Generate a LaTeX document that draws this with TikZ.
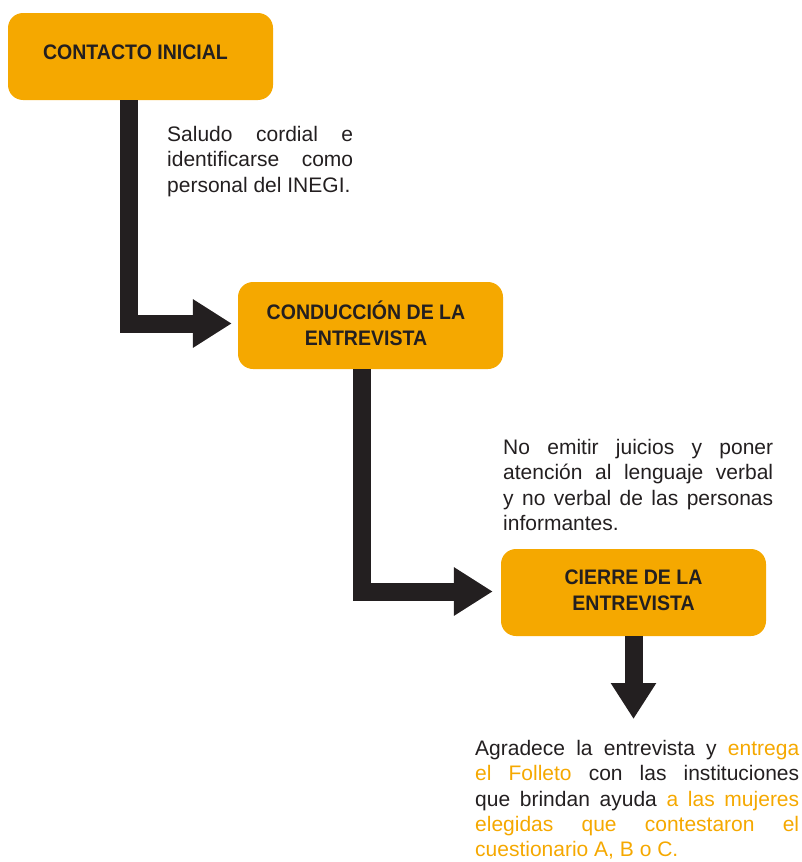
\documentclass[tikz,border=0pt]{standalone}
\usepackage{fontspec}
\setmainfont{Liberation Sans}
\newfontfamily\headfont[FakeStretch=0.93]{Liberation Sans}
\usetikzlibrary{arrows.meta}
\definecolor{orng}{HTML}{F5A800}
\definecolor{ink}{HTML}{231F20}
\tolerance=9999
\hbadness=10000
\hyphenpenalty=10000
\begin{document}
\begin{tikzpicture}[x=1pt,y=-1pt,
  box/.style={fill=orng, rounded corners=15pt, inner sep=0pt, minimum width=265pt, minimum height=87pt},
  headtext/.style={font=\headfont\bfseries\fontsize{21}{26}\selectfont, text=ink, align=center, inner sep=0pt},
  bodytext/.style={font=\fontsize{21}{25.3}\selectfont, text=ink, align=justify, inner sep=0pt, anchor=north west},
  flow/.style={draw=ink, line width=18pt, -{Triangle[length=39pt,width=46pt]}},
  flowshort/.style={draw=ink, line width=18pt, -{Triangle[length=36pt,width=43pt]}}
]
\useasboundingbox (0,0) rectangle (801,862);

% boxes
\node[box] (b1) at (140.5,56.5) {};
\node[headtext] (t1) at (135.5,52.5) {CONTACTO INICIAL};
\node[box] (b2) at (370.5,325.5) {};
\node[headtext] (t2) at (366,323) {CONDUCCIÓN DE LA\\ENTREVISTA};
\node[box] (b3) at (633.5,592.5) {};
\node[headtext] (t3) at (633.5,590.5) {CIERRE DE LA\\ENTREVISTA};

% notes
\node[bodytext, text width=186pt] (n1) at (167,126) {Saludo cordial e\linebreak identificarse como\linebreak personal del INEGI.};
\node[bodytext, text width=270pt] (n2) at (503,439) {No emitir juicios y poner\linebreak atención al lenguaje verbal\linebreak y no verbal de las personas\linebreak informantes.};
\node[bodytext, text width=324pt] (n3) at (475,740) {Agradece la entrevista y \textcolor{orng}{entrega}\linebreak \textcolor{orng}{el Folleto} con las instituciones\linebreak que brindan ayuda \textcolor{orng}{a las mujeres}\linebreak \textcolor{orng}{elegidas que contestaron el}\linebreak \textcolor{orng}{cuestionario A, B o C.}};

% connectors
\draw[flow] (b1.south -| 129,0) |- ([xshift=-6pt,yshift=2pt]b2.west);
\draw[flow] (b2.south -| 362,0) |- ([xshift=-8pt,yshift=1pt]b3.west);
\coordinate (e3) at (633.5,719);
\draw[flowshort] (b3.south) -- (e3);
\end{tikzpicture}
\end{document}
